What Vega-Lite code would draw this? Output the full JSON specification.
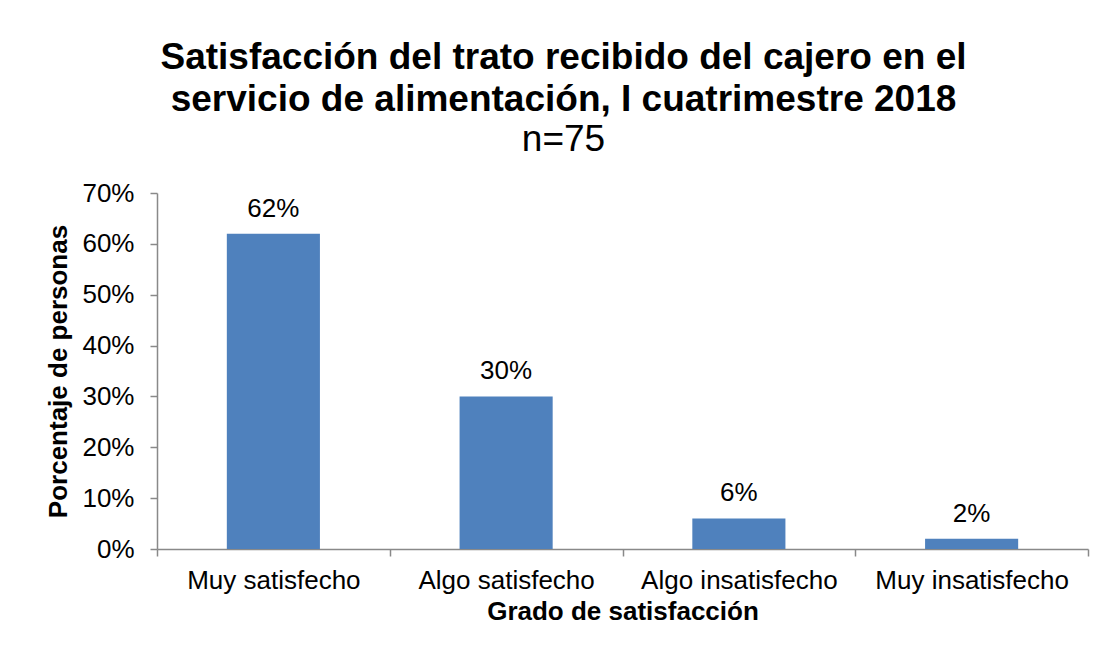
{
  "$schema": "https://vega.github.io/schema/vega-lite/v6.json",
  "width": 931,
  "height": 356,
  "autosize": "none",
  "padding": {"left": 157, "top": 193, "right": 15, "bottom": 108},
  "background": "white",
  "title": {
    "text": ["Satisfacción del trato recibido del cajero en el", "servicio de alimentación, I cuatrimestre 2018"],
    "subtitle": "n=75",
    "anchor": "middle",
    "frame": "group",
    "dx": -59,
    "offset": 21,
    "font": "Liberation Sans",
    "fontSize": 37,
    "fontWeight": "bold",
    "lineHeight": 42,
    "color": "black",
    "subtitleFont": "Liberation Sans",
    "subtitleFontSize": 37,
    "subtitleFontWeight": "normal",
    "subtitleColor": "black",
    "subtitlePadding": 3
  },
  "data": {
    "values": [
      {"grado": "Muy satisfecho", "pct": 0.62},
      {"grado": "Algo satisfecho", "pct": 0.30},
      {"grado": "Algo insatisfecho", "pct": 0.06},
      {"grado": "Muy insatisfecho", "pct": 0.02}
    ]
  },
  "encoding": {
    "x": {
      "field": "grado",
      "type": "nominal",
      "sort": null,
      "scale": {"paddingInner": 0, "paddingOuter": 0},
      "axis": {
        "title": "Grado de satisfacción",
        "labelAngle": 0,
        "labelLimit": 0,
        "labelFont": "Liberation Sans",
        "labelFontSize": 26,
        "labelColor": "black",
        "labelPadding": 11,
        "titleFont": "Liberation Sans",
        "titleFontSize": 26,
        "titleFontWeight": "bold",
        "titleColor": "black",
        "titlePadding": 5,
        "domainColor": "#898989",
        "domainWidth": 1.5,
        "tickColor": "#898989",
        "tickWidth": 1.5,
        "tickSize": 7,
        "tickBand": "extent",
        "grid": false
      }
    },
    "y": {
      "field": "pct",
      "type": "quantitative",
      "scale": {"domain": [0, 0.7], "nice": false},
      "axis": {
        "title": "Porcentaje de personas",
        "values": [0, 0.1, 0.2, 0.3, 0.4, 0.5, 0.6, 0.7],
        "format": ".0%",
        "labelFont": "Liberation Sans",
        "labelFontSize": 26,
        "labelColor": "black",
        "labelPadding": 16,
        "titleFont": "Liberation Sans",
        "titleFontSize": 26,
        "titleFontWeight": "bold",
        "titleColor": "black",
        "titlePadding": 10,
        "domainColor": "#898989",
        "domainWidth": 1.5,
        "tickColor": "#898989",
        "tickWidth": 1.5,
        "tickSize": 7,
        "grid": false
      }
    }
  },
  "layer": [
    {
      "mark": {"type": "bar", "color": "#4F81BD", "width": {"band": 0.4}}
    },
    {
      "mark": {"type": "text", "font": "Liberation Sans", "fontSize": 26, "color": "black", "baseline": "alphabetic", "dy": -17},
      "encoding": {
        "text": {"field": "pct", "type": "quantitative", "format": ".0%"}
      }
    }
  ],
  "config": {
    "view": {"stroke": null}
  }
}
